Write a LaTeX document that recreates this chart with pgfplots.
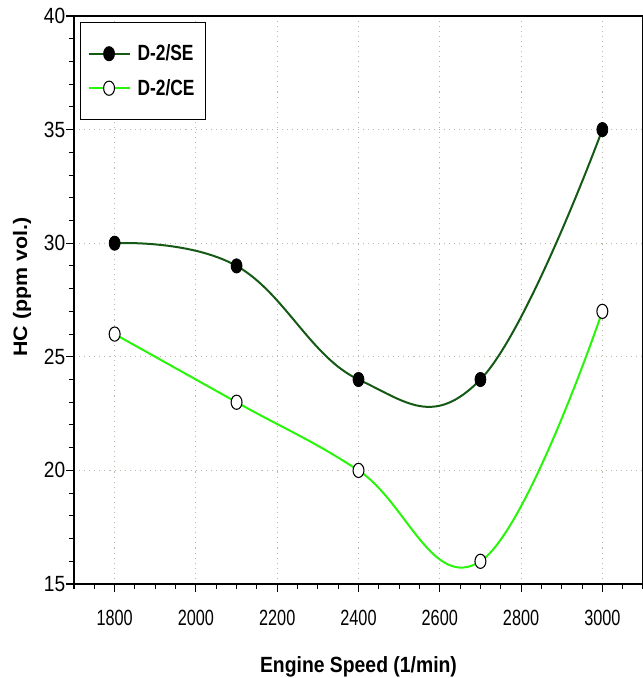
\documentclass[border=0pt]{standalone}
\usepackage{pgfplots}
\pgfplotsset{compat=1.18}
\usepackage{fontspec}
\setmainfont{Liberation Sans}
\newfontfamily\xtickfont{Liberation Sans}[FakeStretch=0.74]
\newfontfamily\ytickfont{Liberation Sans}[FakeStretch=0.87]
\newfontfamily\xlabfont{Liberation Sans Bold}[FakeStretch=0.88]
\newfontfamily\ylabfont{Liberation Sans Bold}[FakeStretch=1.1]
\newfontfamily\legfont{Liberation Sans Bold}[FakeStretch=0.79]
\definecolor{darkgreenline}{RGB}{20,90,20}
\definecolor{lightgreenline}{RGB}{40,245,10}
\definecolor{gridcol}{RGB}{190,182,165}
\begin{document}
\begin{tikzpicture}
\begin{axis}[
 at={(0pt,0pt)}, anchor=south west,
 scale only axis, width=426.75pt, height=426pt,
 xmin=1700, xmax=3100, ymin=15, ymax=40,
 xtick={1800,2000,...,3000},
 minor xtick={1700,1750,...,3100},
 ytick={15,20,...,40},
 minor ytick={15,...,40},
 xtick pos=bottom, ytick pos=left,
 tick align=outside,
 major tick length=6pt, minor tick length=3.5pt,
 tick style={black, line width=0.8pt},
 axis line style={black, line width=1pt},
 xmajorgrids, ymajorgrids,
 major grid style={gridcol, line width=0.8pt, dash pattern=on 0.8pt off 3pt},
 /pgf/number format/assume math mode=true,
 /pgf/number format/1000 sep={},
 xticklabel style={font=\xtickfont\fontsize{16.5}{19}\selectfont, yshift=-10pt},
 yticklabel style={font=\ytickfont\fontsize{16.5}{19}\selectfont, xshift=3pt},
 xlabel={Engine Speed (1/min)},
 ylabel={HC (ppm vol.)},
 xlabel style={font=\xlabfont\fontsize{16.5}{20}\selectfont, at={(axis description cs:0.5,-0.1561)}, anchor=base},
 ylabel style={font=\ylabfont\fontsize{14.6}{18}\selectfont, at={(axis description cs:-0.0826,0.523)}, anchor=base},
 legend style={at={(0.0105,0.9894)}, anchor=north west, draw=black, line width=0.9pt,
   inner xsep=5.25pt, inner ysep=13.6pt, row sep=6.4pt, column sep=2.25pt,
   font=\legfont\fontsize{16.5}{19}\selectfont,
   nodes={inner sep=3pt}},
 legend cell align=left,
 legend image code/.code={\draw[mark repeat=2, mark phase=2, #1] plot coordinates {(0cm,0cm) (0.54cm,0cm) (1.08cm,0cm)};},
]
\addplot[darkgreenline, line width=1.5pt, smooth, tension=0.7, mark=*, mark size=4.1pt,
  mark options={black, fill=black, solid, line width=0.6pt, yscale=1.3}]
  coordinates {(1800,30) (2100,29) (2400,24) (2700,24) (3000,35)};
\addlegendentry{D-2/SE}
\addplot[lightgreenline, line width=1.5pt, smooth, tension=0.7, mark=*, mark size=4.1pt,
  mark options={draw=black, fill=white, solid, line width=0.8pt, yscale=1.3}]
  coordinates {(1800,26) (2100,23) (2400,20) (2700,16) (3000,27)};
\addlegendentry{D-2/CE}
\end{axis}
\pgfresetboundingbox
\useasboundingbox (-55.5pt,-70.5pt) rectangle (426.3pt,438pt);
\end{tikzpicture}
\end{document}
